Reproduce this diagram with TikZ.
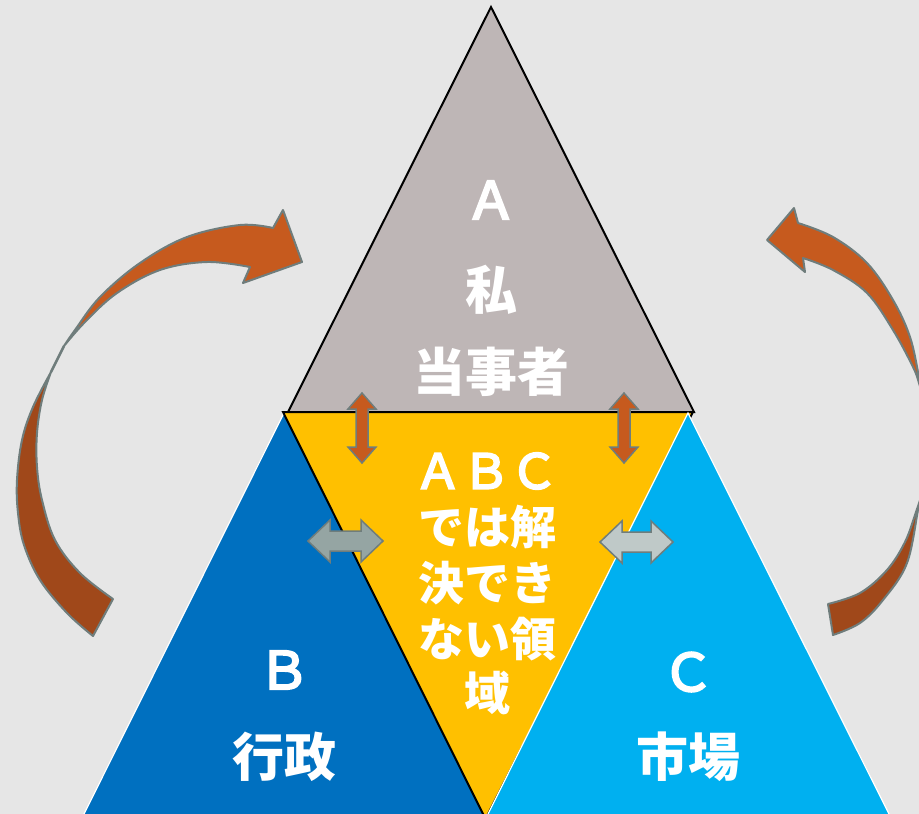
\documentclass[tikz,border=0pt]{standalone}
\usepackage{fontspec}
\newfontfamily\jp{Noto Sans CJK JP}
\newfontfamily\jpm{Noto Sans CJK JP}[FakeBold=4]
\definecolor{bg}{HTML}{E6E6E6}
\definecolor{triA}{HTML}{BEB6B6}
\definecolor{triB}{HTML}{0070C0}
\definecolor{triC}{HTML}{00B0F0}
\definecolor{triY}{HTML}{FFC000}
\definecolor{arrO}{HTML}{C65A1E}
\definecolor{arrD}{HTML}{A0481A}
\definecolor{arrLine}{HTML}{6F7D7C}
\definecolor{arrG1}{HTML}{95A5A3}
\definecolor{arrG2}{HTML}{BFC9C8}
\tikzset{
  lab/.style={text=white,inner sep=0pt,font=\jp\bfseries\fontsize{52}{52}\selectfont},
  latin/.style={text=white,inner sep=0pt,font=\jpm\fontsize{52}{52}\selectfont},
  labm/.style={text=white,inner sep=0pt,font=\jp\bfseries\fontsize{46}{46}\selectfont},
  latinm/.style={text=white,inner sep=0pt,font=\jpm\fontsize{48}{48}\selectfont},
  arrbody/.style={draw=arrLine,line width=2pt,line join=round},
  smallarr/.style={draw=arrLine,line width=1.5pt,line join=miter},
}
\begin{document}
\begin{tikzpicture}[x=1pt,y=-1pt]
\useasboundingbox (0,0) rectangle (919,814);
\fill[bg] (0,0) rectangle (919,814);
% triangles
\filldraw[fill=triA,draw=black,line width=2pt,line join=miter] (491,7) -- (288,412) -- (694,412) -- cycle;
\filldraw[fill=triB,draw=white,line width=1.2pt] (284,413) -- (82,818) -- (487,818) -- cycle;
\filldraw[fill=triY,draw=black,line width=2pt,line join=miter] (283,412) -- (693,412) -- (485.5,819) -- cycle;
\filldraw[fill=triC,draw=white,line width=1.2pt] (688,413) -- (486,818) -- (891,818) -- cycle;
% curved arrows
\begin{scope}
\clip (0,0) rectangle (919,814);
% left arrow, thin junction line
\draw[draw=arrLine,line width=2.5pt] (64,346) -- (51,372);
% left arrow, lower part
\filldraw[arrbody,fill=arrD] (93,636) -- (113,599)
  -- plot[smooth,tension=0.6] coordinates {(113,599) (80,573) (55,540) (42,500) (37,467) (37,433) (42,400) (51,372)}
  -- plot[smooth,tension=0.6] coordinates {(51,372) (33,407) (22,440) (17,480) (18,513) (24,545) (40,580) (67,613) (93,636)}
  -- cycle;
% left arrow, upper part
\filldraw[arrbody,fill=arrO]
  plot[smooth,tension=0.6] coordinates {(64,346) (75,330) (100,297) (140,263) (187,237) (240,225) (273,228)}
  -- (283,210) -- (302,262) -- (243,283) -- (250,267)
  -- plot[smooth,tension=0.6] coordinates {(250,267) (207,262) (160,270) (117,293) (85,322) (64,346)}
  -- cycle;
% right arrow, upper part
\filldraw[arrbody,fill=arrO]
  plot[smooth,tension=0.6] coordinates {(923,398) (919,377) (910,337) (893,300) (867,263) (833,237) (798,223)}
  -- (794,208) -- (767,240) -- (805,272) -- (803,258)
  -- plot[smooth,tension=0.6] coordinates {(803,258) (833,270) (867,293) (893,330) (913,367) (919,383) (923,398)}
  -- cycle;
% right arrow, lower part
\filldraw[arrbody,fill=arrD]
  plot[smooth,tension=0.6] coordinates {(925,485) (919,505) (907,563) (883,600) (860,623) (833,635)}
  -- (828,604)
  -- plot[smooth,tension=0.6] coordinates {(828,604) (860,593) (887,570) (905,542) (916,512) (925,485)}
  -- cycle;
\end{scope}
% vertical double arrows
\foreach \cx in {362,624}{
  \filldraw[smallarr,fill=arrO] (\cx,393) -- (\cx+14,409) -- (\cx+6,409) -- (\cx+6,447) -- (\cx+14,447)
    -- (\cx,463) -- (\cx-14,447) -- (\cx-6,447) -- (\cx-6,409) -- (\cx-14,409) -- cycle;
}
% horizontal double arrows
\filldraw[smallarr,fill=arrG1] (308,541) -- (330,520) -- (330,531) -- (361,531) -- (361,520) -- (383,541)
  -- (361,562) -- (361,551) -- (330,551) -- (330,562) -- cycle;
\filldraw[smallarr,fill=arrG2] (600,542) -- (622,521) -- (622,532) -- (651,532) -- (651,521) -- (673,542)
  -- (651,563) -- (651,552) -- (622,552) -- (622,563) -- cycle;
% labels
\node[latin] (a1) at (491,200) {Ａ};
\node[lab] (a2) at (491,290) {私};
\node[lab] (a3) at (491,372) {当事者};
\node[latinm] (m1) at (486,471) {ＡＢＣ};
\node[labm] (m2) at (487,527) {では解};
\node[labm] (m3) at (487,583) {決でき};
\node[labm] (m4) at (487,639) {ない領};
\node[labm] (m5) at (487,693) {域};
\node[latin] (b1) at (284,670) {Ｂ};
\node[lab] (b2) at (284,757) {行政};
\node[latin] (c1) at (688,672) {Ｃ};
\node[lab] (c2) at (688,757) {市場};
\end{tikzpicture}
\end{document}
